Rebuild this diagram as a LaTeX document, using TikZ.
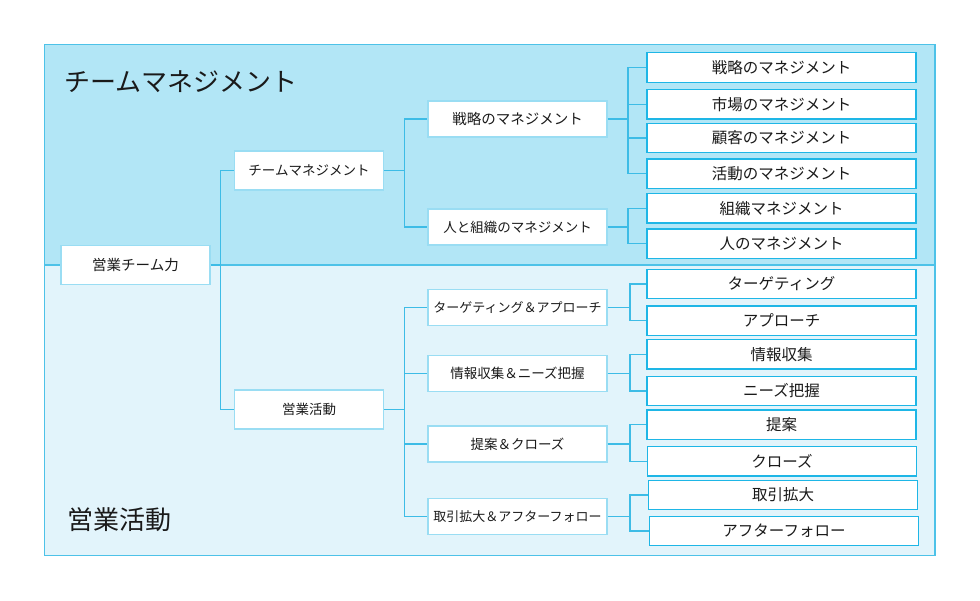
\documentclass[tikz,border=0pt]{standalone}
\usepackage{fontspec}
\setmainfont{Noto Sans CJK JP}
\usetikzlibrary{calc}
\definecolor{topfill}{HTML}{B2E6F6}
\definecolor{botfill}{HTML}{E2F4FB}
\definecolor{frame}{HTML}{4DC2E8}
\definecolor{conn}{HTML}{3DBCE6}
\definecolor{softedge}{HTML}{9ADDF3}
\definecolor{leafedge}{HTML}{1EB6E6}
\definecolor{ink}{HTML}{1A1A1A}
\tikzset{
  x=1pt,y=-1pt,
  midbox/.style={draw=softedge,line width=1.2pt,fill=white,minimum width=149pt,minimum height=39pt,inner sep=0pt,text=ink,font=\fontsize{13.5}{16}\selectfont},
  secbox/.style={draw=softedge,line width=1.2pt,fill=white,minimum width=179pt,minimum height=36pt,inner sep=0pt,text=ink,font=\fontsize{13.5}{16}\selectfont},
  leafbox/.style={draw=leafedge,line width=1.4pt,fill=white,minimum width=269pt,minimum height=29.5pt,inner sep=0pt,text=ink,font=\fontsize{15.5}{18}\selectfont},
  link/.style={draw=conn,line width=1.3pt},
  bigtitle/.style={anchor=west,inner sep=0pt,text=ink,font=\fontsize{26}{30}\selectfont}
}
\begin{document}
\begin{tikzpicture}
\useasboundingbox (0,0) rectangle (980,601);
% regions
\fill[topfill] (44.7,44.7) rectangle (935,265);
\fill[botfill] (44.7,265) rectangle (935,555.3);
\draw[frame,line width=1.3pt] (44.7,44.7) rectangle (935,555.3);
\draw[frame,line width=1.3pt] (44.7,265) -- (935,265);
\node[bigtitle] (t1) at (64,82) {チームマネジメント};
\node[bigtitle] (t2) at (67,520) {営業活動};

% nodes
\node[midbox,font=\fontsize{14.5}{17}\selectfont] (root) at (135.5,265) {営業チーム力};
\node[midbox] (tm) at (309,170.5) {チームマネジメント};
\node[midbox] (ea) at (309,409.5) {営業活動};

\node[secbox,font=\fontsize{14.5}{17}\selectfont] (s1) at (517.5,119) {戦略のマネジメント};
\node[secbox] (s2) at (517.5,227) {人と組織のマネジメント};
\node[secbox,font=\fontsize{13}{16}\selectfont] (b1) at (517.5,307.3) {ターゲティング＆アプローチ};
\node[secbox] (b2) at (517.5,373.7) {情報収集＆ニーズ把握};
\node[secbox] (b3) at (517.5,444) {提案＆クローズ};
\node[secbox,font=\fontsize{13}{16}\selectfont] (b4) at (517.5,516.3) {取引拡大＆アフターフォロー};

\node[leafbox] (l1) at (781.5,67.5) {戦略のマネジメント};
\node[leafbox] (l2) at (781.5,104.2) {市場のマネジメント};
\node[leafbox] (l3) at (781.5,138) {顧客のマネジメント};
\node[leafbox] (l4) at (781.5,173.7) {活動のマネジメント};
\node[leafbox] (l5) at (781.5,208.3) {組織マネジメント};
\node[leafbox] (l6) at (781.5,243.8) {人のマネジメント};
\node[leafbox] (m1) at (781.5,284) {ターゲティング};
\node[leafbox] (m2) at (781.5,320.7) {アプローチ};
\node[leafbox] (m3) at (781.5,354.3) {情報収集};
\node[leafbox] (m4) at (781.5,391) {ニーズ把握};
\node[leafbox] (m5) at (781.5,424.7) {提案};
\node[leafbox] (m6) at (782,461.3) {クローズ};
\node[leafbox] (m7) at (783,495) {取引拡大};
\node[leafbox] (m8) at (784,531) {アフターフォロー};

% connectors
\coordinate (j0) at ($(root.east)+(10,0)$);
\draw[link] (root.east) -- (j0) |- (tm.west);
\draw[link] (j0) |- (ea.west);

\coordinate (j1) at ($(tm.east)+(20.5,0)$);
\draw[link] (tm.east) -- (j1) |- (s1.west);
\draw[link] (j1) |- (s2.west);

\coordinate (j2) at ($(ea.east)+(20.5,0)$);
\draw[link] (ea.east) -- (j2) |- (b1.west);
\draw[link] (j2) |- (b2.west);
\draw[link] (j2) |- (b3.west);
\draw[link] (j2) |- (b4.west);

\coordinate (k1) at ($(s1.east)+(20.5,0)$);
\draw[link] (s1.east) -- (k1) |- (l1.west);
\draw[link] (k1) |- (l2.west);
\draw[link] (k1) |- (l3.west);
\draw[link] (k1) |- (l4.west);

\coordinate (k2) at ($(s2.east)+(20.5,0)$);
\draw[link] (s2.east) -- (k2) |- (l5.west);
\draw[link] (k2) |- (l6.west);

\coordinate (k3) at ($(b1.east)+(22.5,0)$);
\draw[link] (b1.east) -- (k3) |- (m1.west);
\draw[link] (k3) |- (m2.west);

\coordinate (k4) at ($(b2.east)+(22.5,0)$);
\draw[link] (b2.east) -- (k4) |- (m3.west);
\draw[link] (k4) |- (m4.west);

\coordinate (k5) at ($(b3.east)+(22.5,0)$);
\draw[link] (b3.east) -- (k5) |- (m5.west);
\draw[link] (k5) |- (m6.west);

\coordinate (k6) at ($(b4.east)+(22.5,0)$);
\draw[link] (b4.east) -- (k6) |- (m7.west);
\draw[link] (k6) |- (m8.west);
\end{tikzpicture}
\end{document}
